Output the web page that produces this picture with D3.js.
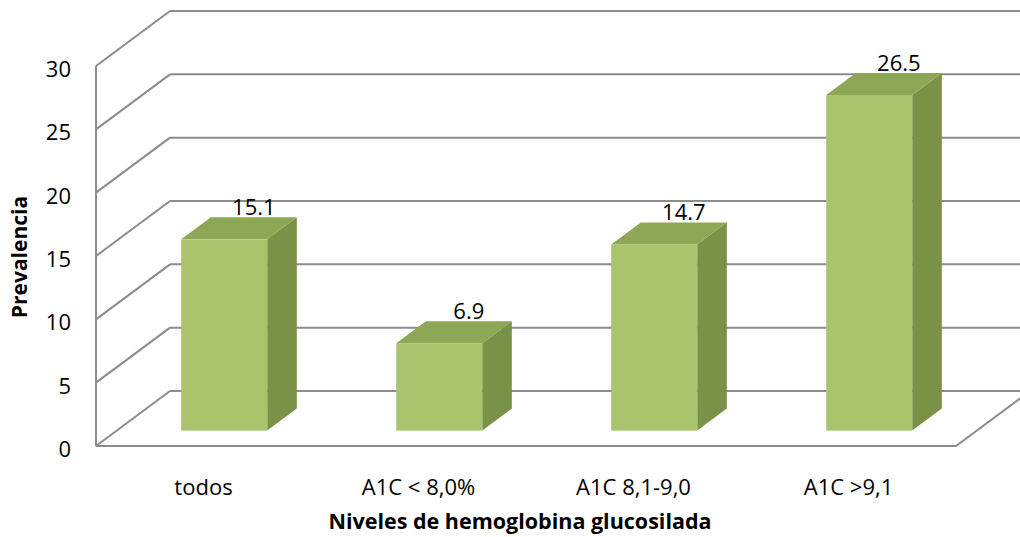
<!DOCTYPE html>
<html>
<head>
<meta charset="utf-8">
<script src="https://cdn.jsdelivr.net/npm/d3@7"></script>
<style>
  html, body { margin: 0; padding: 0; background: #fff; }
  svg { display: block; font-family: "Open Sans", "Liberation Sans", sans-serif; }
</style>
</head>
<body>
<svg id="chart" width="1020" height="537"></svg>
<script>
// Prevalence by glycated haemoglobin level
const categories = ["todos", "A1C < 8,0%", "A1C 8,1-9,0", "A1C >9,1"];
const prevalence = [15.1, 6.9, 14.7, 26.5];
const yTicks = [0, 5, 10, 15, 20, 25, 30];
const yTitle = "Prevalencia";
const xTitle = "Niveles de hemoglobina glucosilada";

const W = 1020, H = 537;
const svg = d3.select("#chart");

// Front plane of the 3D box
const front = { left: 96, right: 956, bottom: 446, top: 66 };
// Offset from the front plane to the back wall
const depth = { dx: 74, dy: -55 };
// Bars occupy this slice of the box depth (0 = front, 1 = back)
const barDepth = [0.28, 0.68];

const y = d3.scaleLinear().domain([0, 30]).range([front.bottom, front.top]);
const x = d3.scaleBand().domain(categories)
  .range([front.left, front.right])
  .paddingInner(0.6).paddingOuter(0.3);
const xLabel = d3.scaleBand().domain(categories).range([front.left, front.right]);

const shift = d => [depth.dx * d, depth.dy * d];

const gridColor = "#8c8c8c";
const g = svg.append("g");

// Back wall gridlines
g.append("g").selectAll("line").data(yTicks).join("line")
  .attr("x1", front.left + depth.dx).attr("x2", front.right + depth.dx)
  .attr("y1", d => y(d) + depth.dy).attr("y2", d => y(d) + depth.dy)
  .attr("stroke", gridColor).attr("stroke-width", 2);

// Left side wall gridlines
g.append("g").selectAll("line").data(yTicks).join("line")
  .attr("x1", front.left).attr("x2", front.left + depth.dx)
  .attr("y1", d => y(d)).attr("y2", d => y(d) + depth.dy)
  .attr("stroke", gridColor).attr("stroke-width", 2);

// Floor outline: front edge and right edge
g.append("path")
  .attr("d", `M${front.left},${y(0)} L${front.right},${y(0)} L${front.right + depth.dx},${y(0) + depth.dy}`)
  .attr("fill", "none").attr("stroke", gridColor).attr("stroke-width", 2);

// Vertical value axis on the front plane
g.append("line")
  .attr("x1", front.left).attr("x2", front.left)
  .attr("y1", y(30)).attr("y2", y(0))
  .attr("stroke", gridColor).attr("stroke-width", 2);

// Tick labels
g.append("g").selectAll("text").data(yTicks).join("text")
  .attr("x", 71).attr("y", d => y(d) + 2)
  .attr("text-anchor", "end").attr("dominant-baseline", "central")
  .attr("font-size", 22).attr("fill", "#000")
  .text(d => d);

// 3D bars
const faceFront = "#a9c46d", faceSide = "#7a9148", faceTop = "#8ea757";
const bars = g.append("g").selectAll("g").data(categories.map((c, i) => ({ c, v: prevalence[i] }))).join("g");

bars.each(function (d) {
  const sel = d3.select(this);
  const [fx, fy] = shift(barDepth[0]);
  const [bx, by] = shift(barDepth[1]);
  const x0 = x(d.c) + fx, x1 = x0 + x.bandwidth();
  const yb = y(0) + fy, yt = y(d.v) + fy;
  const ddx = bx - fx, ddy = by - fy;

  // right side face
  sel.append("path")
    .attr("d", `M${x1},${yt} L${x1 + ddx},${yt + ddy} L${x1 + ddx},${yb + ddy} L${x1},${yb} Z`)
    .attr("fill", faceSide);
  // top face
  sel.append("path")
    .attr("d", `M${x0},${yt} L${x0 + ddx},${yt + ddy} L${x1 + ddx},${yt + ddy} L${x1},${yt} Z`)
    .attr("fill", faceTop);
  // front face
  sel.append("rect")
    .attr("x", x0).attr("y", yt)
    .attr("width", x1 - x0).attr("height", yb - yt)
    .attr("fill", faceFront);

  // value label above the back top edge
  sel.append("text")
    .attr("x", (x0 + x1) / 2 + ddx).attr("y", yt + ddy - 2)
    .attr("text-anchor", "middle")
    .attr("font-size", 22).attr("fill", "#000")
    .text(d.v.toFixed(1));
});

// Category labels
g.append("g").selectAll("text").data(categories).join("text")
  .attr("x", d => xLabel(d) + xLabel.bandwidth() / 2)
  .attr("y", 495)
  .attr("text-anchor", "middle")
  .attr("font-size", 22).attr("fill", "#000")
  .text(d => d);

// Axis titles
svg.append("text")
  .attr("x", W / 2 + 10).attr("y", 529)
  .attr("text-anchor", "middle")
  .attr("font-size", 21.5).attr("font-weight", "bold").attr("fill", "#000")
  .text(xTitle);

svg.append("text")
  .attr("transform", `translate(27,257) rotate(-90)`)
  .attr("text-anchor", "middle")
  .attr("font-size", 21).attr("font-weight", "bold").attr("fill", "#000")
  .text(yTitle);
</script>
</body>
</html>
